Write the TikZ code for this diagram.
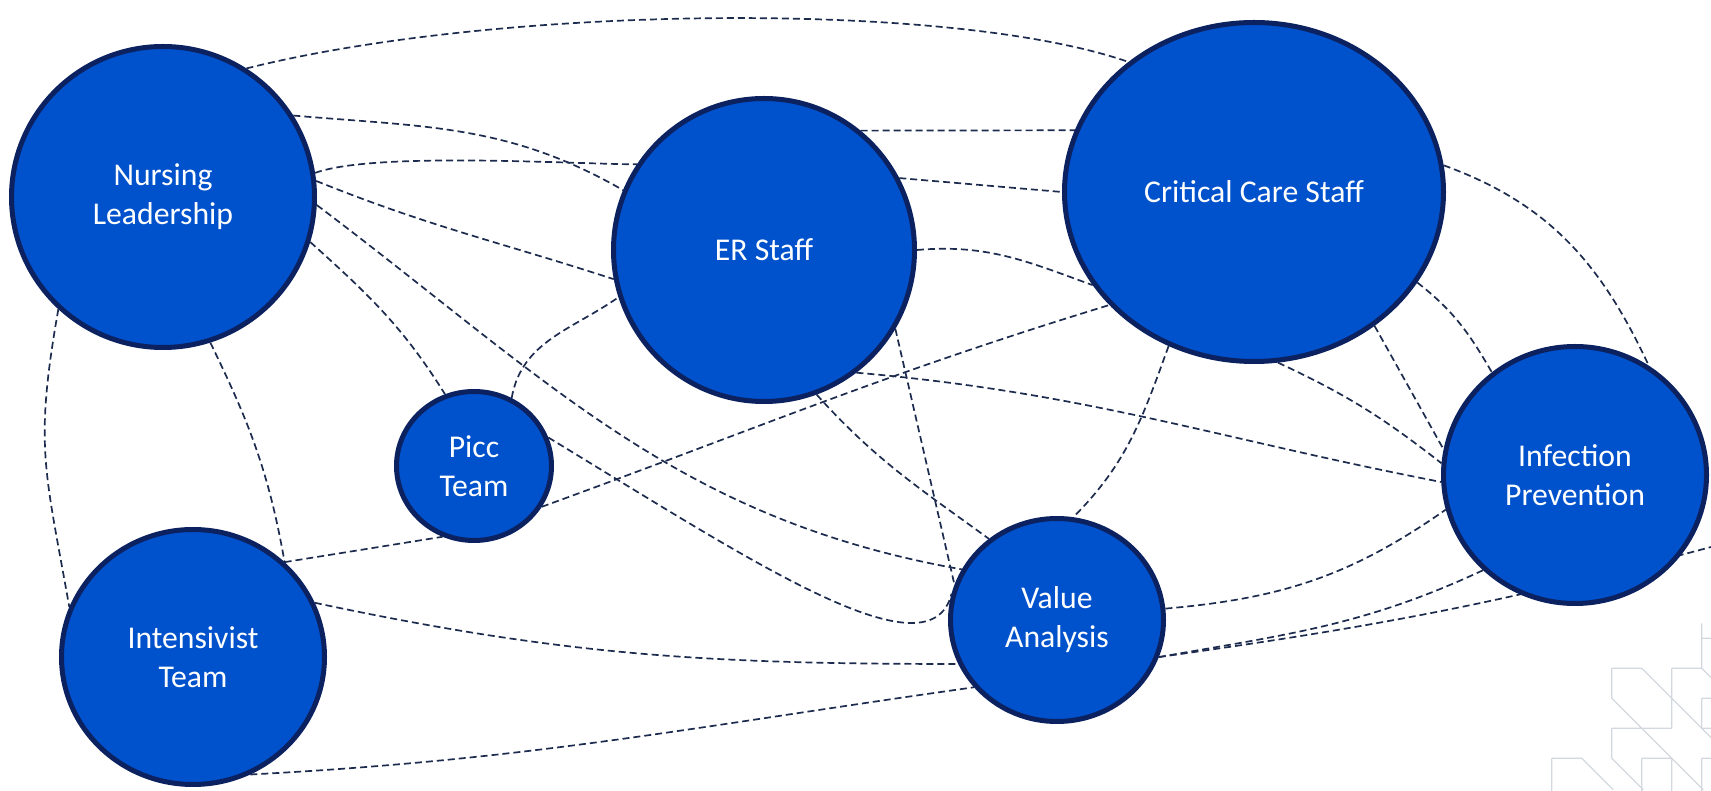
\documentclass[tikz,border=0pt]{standalone}
\usepackage{fontspec}
\setmainfont{Carlito}
\usetikzlibrary{shapes.geometric,backgrounds}
\definecolor{teamblue}{HTML}{0052CC}
\definecolor{teamborder}{HTML}{0B2160}
\definecolor{linkcol}{HTML}{1C2B4E}
\definecolor{logogray}{HTML}{D3D7DF}
\tikzset{
  team/.style={ellipse, draw=teamborder, line width=5pt, fill=teamblue, text=white,
    inner sep=0pt, align=center, font=\fontsize{31.7}{39}\selectfont},
  link/.style={draw=linkcol, line width=1.7pt, dash pattern=on 7pt off 4pt},
}
\newcommand{\team}[6]{\node[team, minimum width=#4pt, minimum height=#5pt] (#1) at (#2,#3) {#6};}
\newcommand{\link}[2]{\draw[link] (#1) -- (#2);}
\newcommand{\linkbend}[3]{\draw[link] (#1) to[#3] (#2);}

\begin{document}
\begin{tikzpicture}[x=1pt,y=1pt]
    \useasboundingbox (0,0) rectangle (1711,790);
    \team{NL}{163}{593}{303}{301}{Nursing\\Leadership}
    \team{ER}{764}{540}{301}{303}{ER Staff}
    \team{CC}{1254}{598}{379}{339}{Critical Care Staff}
    \team{Picc}{474}{324}{155}{149}{Picc\\Team}
    \team{IT}{193}{133}{263}{255}{Intensivist\\Team}
    \team{VA}{1057}{170}{213}{203}{Value\\Analysis}
    \team{IP}{1575}{315}{263}{257}{Infection\\Prevention}
    \coordinate (offright) at (1711,243);

    \begin{scope}[on background layer]
    % nursing leadership
    \draw[link] (NL.57) .. controls (500,785) and (950,790) .. (CC.134);
    \linkbend{NL.32}{ER.157}{out=-5,in=150}
    \linkbend{NL.9}{ER.146}{out=20,in=180,looseness=0.5}
    \linkbend{NL.6}{ER.191}{out=-22,in=162}
    \linkbend{NL.343}{Picc.112}{out=-42,in=122}
    \linkbend{NL.357}{VA.152}{out=-37,in=170}
    \linkbend{NL.288}{IT.46}{out=-64,in=100}
    \linkbend{NL.227}{IT.158}{out=-100,in=100,looseness=1.2}
    % er staff
    \link{ER.51}{CC.161}
    \link{ER.28}{CC.180}
    \linkbend{ER.0}{CC.210}{out=5,in=160}
    \linkbend{ER.307}{IP.183}{out=-5,in=169}
    \linkbend{ER.290}{VA.130}{out=-48,in=144}
    \link{ER.329}{VA.161}
    % critical care
    \linkbend{CC.8}{IP.56}{out=-20,in=115}
    \linkbend{CC.331}{IP.129}{out=-38,in=120}
    \link{CC.312}{IP.169}
    \linkbend{CC.278}{IP.175}{out=-25,in=142}
    \linkbend{CC.241}{VA.81}{out=-110,in=45}
    % picc, intensivist, value analysis
    \linkbend{Picc.329}{CC.218}{out=20,in=197}
    \linkbend{Picc.61}{ER.198}{out=80,in=215}
    \draw[link] (Picc.21) .. controls (750,230) and (930,110) .. (VA.166);
    \link{IT.46}{Picc.246}
    \linkbend{IT.24}{VA.204}{out=-12,in=180}
    \linkbend{IT.296}{VA.219}{out=3,in=188}
    \linkbend{VA.6}{IP.195}{out=5,in=215}
    \linkbend{VA.340}{IP.226}{out=10,in=205}
    \linkbend{VA.340}{offright}{out=8,in=195}
    \end{scope}

    % corner pattern
    \begin{scope}[shift={(1551.7,1.7)},x=30pt,y=30pt,draw=logogray,line width=1.2pt]
    \draw (5,5.5)--(5,4) (5,5)--(6,5) (2,4)--(3,4)--(6,1) (4,4)--(5,4)--(6,3)
          (4,4)--(4,2) (2,4)--(2,3)--(3,2) (2,2)--(4,2) (5,3)--(6,3)
          (5,3)--(5,2)--(6,2) (2,2)--(2,1)--(3.05,-0.05) (3,2)--(5.05,-0.05)
          (3,1)--(4,1)--(4,-0.1) (3,1)--(3,-0.1) (5,1)--(6,1) (5,1)--(5,-0.1)
          (0,1)--(1,1)--(2.05,-0.05) (0,1)--(0,-0.1);
    \end{scope}
\end{tikzpicture}
\end{document}
